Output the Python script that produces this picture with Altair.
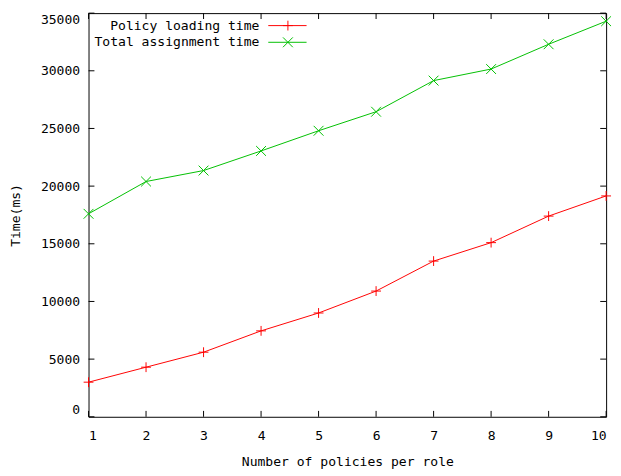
import altair as alt
import pandas as pd

# ---- data ----
x_values = [1, 2, 3, 4, 5, 6, 7, 8, 9, 10]
policy_loading = [3000, 4300, 5600, 7450, 9000, 10900, 13500, 15100, 17400, 19150]
total_assignment = [17600, 20400, 21350, 23050, 24800, 26450, 29150, 30150, 32300, 34300]
series_names = ["Policy loading time", "Total assignment time"]
series_colors = ["#ff0000", "#00c000"]
x_ticks = [1, 2, 3, 4, 5, 6, 7, 8, 9, 10]
y_ticks = [0, 5000, 10000, 15000, 20000, 25000, 30000, 35000]

# ---- layout / style ----
W, H = 527, 411
FONT = "DejaVu Sans Mono"
FS = 13.3
TICK = 6
PLUS = "M-1,0L1,0M0,-1L0,1"
CROSS = "M-1,-1L1,1M-1,1L1,-1"
shapes = [PLUS, CROSS]

rows = []
for name, vals in zip(series_names, [policy_loading, total_assignment]):
    for xv, yv in zip(x_values, vals):
        rows.append({"x": xv, "y": yv, "series": name})
df = pd.DataFrame(rows)

xscale = alt.Scale(domain=[1, 10], nice=False, zero=False)
yscale = alt.Scale(domain=[0, 35000], nice=False)

xaxis = alt.Axis(values=x_ticks, title="Number of policies per role", ticks=False,
                 domain=False, grid=False, labelPadding=12, titlePadding=13,
                 labelFlush=True, format="d")
yaxis = alt.Axis(values=y_ticks, title="Time(ms)", ticks=False, domain=False,
                 grid=False, labelPadding=9, titlePadding=18, labelFlush=True,
                 format="d")

X = alt.X("x:Q", scale=xscale, axis=xaxis)
Y = alt.Y("y:Q", scale=yscale, axis=yaxis)
color = alt.Color("series:N", scale=alt.Scale(domain=series_names, range=series_colors), legend=None)
shape = alt.Shape("series:N", scale=alt.Scale(domain=series_names, range=shapes), legend=None)

base = alt.Chart(df)
lines = base.mark_line(strokeWidth=1).encode(x=X, y=Y, color=color)
points = base.mark_point(filled=False, size=100, strokeWidth=1, opacity=1).encode(
    x=X, y=Y, color=color, shape=shape)

xt = pd.DataFrame({"x": x_ticks})
yt = pd.DataFrame({"y": y_ticks})
tick_bottom = alt.Chart(xt).mark_rule(color="black", strokeWidth=1).encode(
    x=X, y=alt.value(H), y2=alt.value(H - TICK))
tick_top = alt.Chart(xt).mark_rule(color="black", strokeWidth=1).encode(
    x=X, y=alt.value(0), y2=alt.value(TICK))
tick_left = alt.Chart(yt).mark_rule(color="black", strokeWidth=1).encode(
    y=Y, x=alt.value(0), x2=alt.value(TICK))
tick_right = alt.Chart(yt).mark_rule(color="black", strokeWidth=1).encode(
    y=Y, x=alt.value(W), x2=alt.value(W - TICK))

legend_layers = []
for i, (name, col, shp) in enumerate(zip(series_names, series_colors, shapes)):
    ly = 12.7 + i * 17
    ldf = pd.DataFrame({"label": [name]})
    legend_layers.append(
        alt.Chart(ldf).mark_text(align="right", baseline="middle", font=FONT,
                                 fontSize=FS, color="black").encode(
            x=alt.value(174), y=alt.value(ly), text="label:N"))
    legend_layers.append(
        alt.Chart(ldf).mark_rule(color=col, strokeWidth=1).encode(
            x=alt.value(183), x2=alt.value(222), y=alt.value(ly)))
    legend_layers.append(
        alt.Chart(ldf).mark_point(shape=shp, filled=False, size=100, strokeWidth=1,
                                  color=col, opacity=1).encode(
            x=alt.value(203), y=alt.value(ly)))

chart = alt.layer(lines, points, tick_bottom, tick_top, tick_left, tick_right,
                  *legend_layers).properties(
    width=W, height=H,
    padding={"left": 0, "top": 0, "right": 0, "bottom": 0},
).configure(font=FONT, background="white").configure_view(
    stroke="black", strokeWidth=1
).configure_axis(
    labelFont=FONT, titleFont=FONT, labelFontSize=FS, titleFontSize=FS,
    titleFontWeight="normal", labelColor="black", titleColor="black"
)

chart.save("out.html", embed_options={"renderer": "svg", "actions": False})
